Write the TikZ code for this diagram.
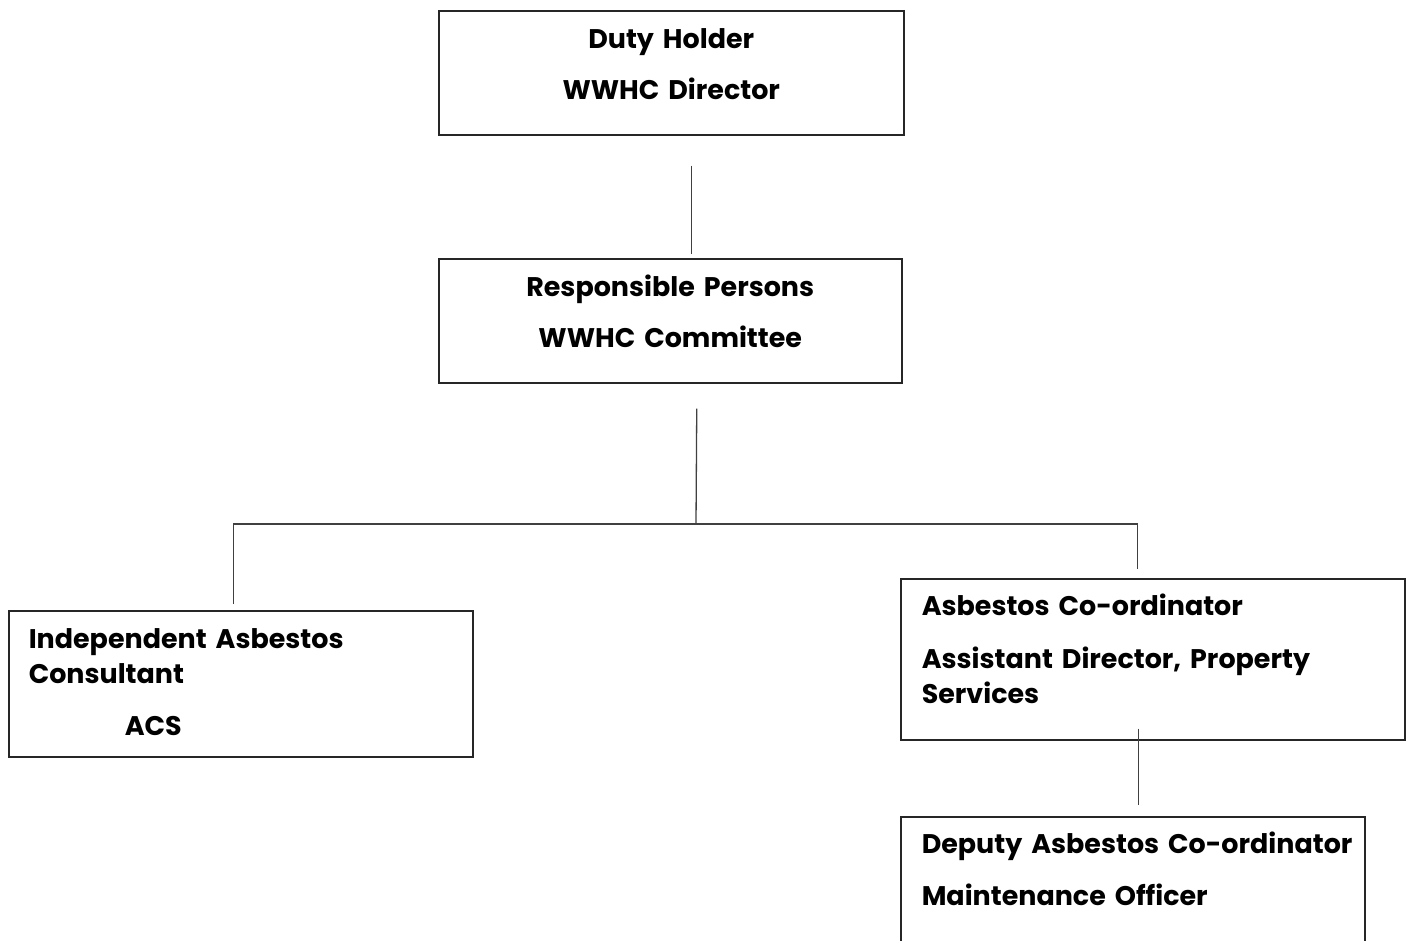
\documentclass[tikz,border=0pt]{standalone}
\usepackage{fontspec}
\setmainfont{Poppins}
\usepackage{tikz}
\newdimen\px \px=0.75pt

\begin{document}
\begin{tikzpicture}[x=1\px, y=-1\px,
  role/.style={draw=black!85, line width=1.5\px, rectangle, anchor=north west,
    inner ysep=0pt, font=\fontsize{20.2pt}{26.25pt}\selectfont\bfseries},
  link/.style={draw=black!75, line width=1.3\px}
]
  \useasboundingbox (0,0) rectangle (1413,940);

  \node[role, inner xsep=0pt, text width=465\px, align=center] (duty) at (438,10)
    {\rule{0pt}{38\px}Duty Holder\\[16\px]WWHC Director\rule[-35\px]{0pt}{35\px}};
  \node[role, inner xsep=0pt, text width=463\px, align=center] (resp) at (438,258)
    {\rule{0pt}{38\px}Responsible Persons\\[16\px]WWHC Committee\rule[-35\px]{0pt}{35\px}};
  \node[role, inner xsep=20\px, text width=424\px, align=left] (consult) at (8,610)
    {\rule{0pt}{38\px}Independent Asbestos\\Consultant\\[17\px]\hspace*{96\px}ACS\rule[-21\px]{0pt}{21\px}};
  \node[role, inner xsep=21\px, text width=462\px, align=left] (coord) at (900,578)
    {\rule{0pt}{37\px}Asbestos Co-ordinator\\[18\px]Assistant Director, Property\\Services\rule[-36\px]{0pt}{36\px}};
  \node[role, inner xsep=21\px, text width=422\px, align=left] (deputy) at (900,816)
    {\rule{0pt}{37\px}\mbox{Deputy Asbestos Co-ordinator}\\[17\px]Maintenance Officer\rule[-70\px]{0pt}{70\px}};

  \coordinate (fork) at (696,524);

  \draw[link] ([xshift=20\px, yshift=-30\px]duty.south) -- ([xshift=21\px, yshift=4\px]resp.north);
  \draw[link] ([xshift=26.5\px, yshift=-25\px]resp.south) -- (fork);
  \draw[link] ([xshift=-7\px, yshift=6\px]consult.north) |- (fork);
  \draw[link] (fork) -| ([xshift=-15\px, yshift=9\px]coord.north);
  \draw[link] ([xshift=-14\px, yshift=12\px]coord.south) -- ([xshift=6\px, yshift=11\px]deputy.north);
\end{tikzpicture}
\end{document}
